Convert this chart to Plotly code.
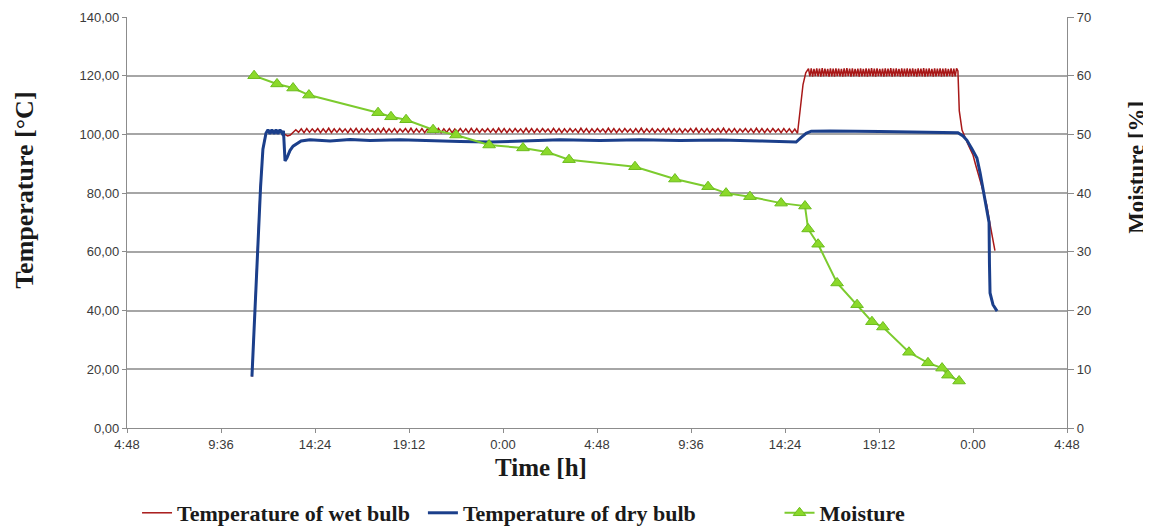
import plotly.graph_objects as go

# ---------------- axes / ticks ----------------
x_tick_hours = [4.8, 9.6, 14.4, 19.2, 24.0, 28.8, 33.6, 38.4, 43.2, 48.0, 52.8]
x_tick_labels = ["4:48", "9:36", "14:24", "19:12", "0:00", "4:48",
                 "9:36", "14:24", "19:12", "0:00", "4:48"]
temp_ticks = [0, 20, 40, 60, 80, 100, 120, 140]
temp_tick_labels = ["0,00", "20,00", "40,00", "60,00", "80,00", "100,00", "120,00", "140,00"]
moist_ticks = [0, 10, 20, 30, 40, 50, 60, 70]
moist_tick_labels = ["0", "10", "20", "30", "40", "50", "60", "70"]

# ---------------- wet bulb temperature (logger segments) ----------------
wet_warmup_start_h = 11.18
wet_warmup_step_h = 0.14
wet_warmup = [17.5, 39.0, 62.0, 81.0, 95.0, 100.3, 101.2, 100.6,
              101.2, 100.6, 101.0, 100.8, 100.0, 99.5, 99.8, 100.8]

wet_stage1_start_h = 13.42
wet_stage1_step_h = 0.14
wet_stage1 = [
    101.6, 100.7, 101.9, 100.6, 102.0, 100.7, 101.9, 100.8,
    102.0, 100.6, 101.9, 100.7, 102.1, 100.6, 101.9, 100.7,
    102.0, 100.8, 101.9, 100.6, 102.0, 100.7, 102.1, 100.6,
    101.9, 100.7, 102.0, 100.8, 101.9, 100.6, 102.0, 100.7,
    102.1, 100.6, 101.9, 100.7, 102.0, 100.6, 101.9, 100.8,
    102.0, 100.7, 102.1, 100.6, 101.9, 100.7, 102.0, 100.6,
    101.9, 100.8, 102.0, 100.7, 102.1, 100.6, 101.9, 100.7,
    102.0, 100.6, 101.9, 100.8, 102.0, 100.7, 101.9, 100.6,
    102.1, 100.7, 102.0, 100.6, 101.9, 100.8, 102.0, 100.7,
    101.9, 100.6, 102.1, 100.7, 102.0, 100.6, 101.9, 100.7,
    102.0, 100.8, 101.9, 100.6, 102.1, 100.7, 102.0, 100.6,
    101.9, 100.7, 102.0, 100.8, 101.9, 100.6, 102.1, 100.7,
    102.0, 100.6, 101.9, 100.7, 102.0, 100.8, 101.9, 100.6,
    102.1, 100.7, 102.0, 100.6, 101.9, 100.7, 102.0, 100.8,
    101.9, 100.6, 102.1, 100.7, 102.0, 100.6, 101.9, 100.7,
    102.0, 100.8, 101.9, 100.6, 102.0, 100.7, 102.1, 100.6,
    101.9, 100.7, 102.0, 100.6, 101.9, 100.8, 102.0, 100.7,
    102.1, 100.6, 101.9, 100.7, 102.0, 100.6, 101.9, 100.8,
    102.0, 100.7, 102.1, 100.6, 101.9, 100.7, 102.0, 100.6,
    101.9, 100.8, 102.0, 100.7, 102.1, 100.6, 101.9, 100.7,
    102.0, 100.6, 101.9, 100.8, 102.0, 100.7, 101.9, 100.6,
    102.1, 100.7, 102.0, 100.6, 101.9, 100.7, 102.0, 100.8,
    101.9, 100.6, 102.0, 100.7, 101.9, 100.6, 101.8, 100.4,
]

wet_rise_start_h = 39.18
wet_rise_step_h = 0.14
wet_rise = [108.0, 117.0, 121.0]

wet_stage2_start_h = 39.60
wet_stage2_step_h = 0.07
wet_stage2 = [
    122.4, 119.8, 122.5, 119.7, 122.3, 119.9, 122.5, 119.8, 122.4, 119.7,
    122.6, 119.8, 122.4, 119.9, 122.3, 119.7, 122.5, 119.8, 122.4, 119.7,
    122.5, 119.9, 122.4, 119.8, 122.3, 119.7, 122.5, 119.8, 122.6, 119.9,
    122.4, 119.7, 122.5, 119.8, 122.3, 119.9, 122.4, 119.7, 122.5, 119.8,
    122.3, 119.8, 122.5, 119.7, 122.4, 119.9, 122.6, 119.8, 122.4, 119.7,
    122.5, 119.9, 122.3, 119.8, 122.4, 119.7, 122.5, 119.8, 122.4, 119.9,
    122.6, 119.7, 122.4, 119.8, 122.5, 119.9, 122.3, 119.7, 122.5, 119.8,
    122.4, 119.8, 122.5, 119.7, 122.4, 119.9, 122.5, 119.8, 122.3, 119.7,
    122.5, 119.9, 122.4, 119.8, 122.6, 119.7, 122.4, 119.8, 122.5, 119.9,
    122.3, 119.7, 122.5, 119.8, 122.4, 119.9, 122.5, 119.7, 122.4, 119.8,
    122.5, 119.8, 122.3, 119.9, 122.5, 119.7, 122.4, 119.8, 122.5, 121.6,
]

wet_cooldown_start_h = 47.30
wet_cooldown_step_h = 0.14
wet_cooldown = [108.0, 101.5, 99.0, 97.0, 95.0, 93.0, 89.5, 86.5,
                83.0, 79.5, 76.0, 70.5, 65.0, 60.4]

# ---------------- dry bulb temperature ----------------
dry_time_h = [11.18, 11.31, 11.46, 11.62, 11.74, 11.90, 12.00, 12.10, 12.20, 12.31,
              12.41, 12.51, 12.61, 12.72, 12.79, 12.87, 12.97, 13.12, 13.28, 13.48,
              13.69, 14.14, 15.17, 16.19, 17.21, 18.74, 20.27, 21.80, 23.34, 24.87,
              26.91, 28.95, 31.00, 33.04, 35.08, 37.12, 38.67, 38.97, 39.23, 39.48,
              39.74, 40.71, 43.25, 45.81, 47.23, 47.49, 47.69, 47.95, 48.20, 48.36,
              48.51, 48.72, 48.82, 48.84, 48.87, 49.02, 49.23]
dry_temp = [17.5, 38.0, 62.0, 82.0, 95.0, 100.5, 101.6, 100.2, 101.6, 100.2,
            101.6, 100.2, 101.6, 100.4, 101.2, 91.0, 92.0, 94.5, 96.0, 96.8,
            97.8, 98.2, 97.8, 98.3, 97.9, 98.2, 97.8, 97.6, 97.4, 97.8,
            98.2, 97.9, 98.2, 97.9, 98.1, 97.8, 97.6, 97.4, 99.0, 100.4,
            101.1, 101.2, 101.0, 100.8, 100.6, 99.5, 98.0, 95.0, 92.0, 87.0,
            81.0, 73.0, 70.0, 56.0, 46.0, 42.0, 39.8]

# ---------------- moisture ----------------
moisture_time_h = [11.29, 12.46, 13.28, 14.09, 17.62, 18.28, 19.05, 20.43, 21.60, 23.29,
                   25.02, 26.25, 27.37, 30.74, 32.78, 34.47, 35.39, 36.61, 38.20, 39.42,
                   39.58, 40.09, 41.06, 42.08, 42.84, 43.40, 44.73, 45.70, 46.42, 46.72,
                   47.29]
moisture_pct = [60.0, 58.6, 57.9, 56.7, 53.7, 53.0, 52.5, 50.8, 49.9, 48.2,
                47.7, 47.0, 45.7, 44.5, 42.4, 41.1, 40.0, 39.4, 38.3, 37.8,
                33.9, 31.3, 24.7, 21.0, 18.1, 17.2, 12.9, 11.1, 10.2, 9.0,
                8.0]

# ---------------- assemble wet-bulb series ----------------
wet_segments = [
    (wet_warmup_start_h, wet_warmup_step_h, wet_warmup),
    (wet_stage1_start_h, wet_stage1_step_h, wet_stage1),
    (wet_rise_start_h, wet_rise_step_h, wet_rise),
    (wet_stage2_start_h, wet_stage2_step_h, wet_stage2),
    (wet_cooldown_start_h, wet_cooldown_step_h, wet_cooldown),
]
wet_time_h, wet_temp = [], []
for start, step, seg in wet_segments:
    for k, v in enumerate(seg):
        wet_time_h.append(round(start + step * k, 3))
        wet_temp.append(v)

SERIF = "Liberation Serif"
SANS = "Liberation Sans"

fig = go.Figure()
fig.add_trace(go.Scatter(
    x=wet_time_h, y=wet_temp, mode="lines", name="Temperature of wet bulb",
    line=dict(color="#A81818", width=1.5), legend="legend", yaxis="y"))
fig.add_trace(go.Scatter(
    x=dry_time_h, y=dry_temp, mode="lines", name="Temperature of dry bulb",
    line=dict(color="#1B3F8B", width=3), legend="legend2", yaxis="y"))
fig.add_trace(go.Scatter(
    x=moisture_time_h, y=moisture_pct, mode="lines+markers", name="Moisture",
    line=dict(color="#7CCB2E", width=2),
    marker=dict(symbol="triangle-up", size=11, color="#8BD92A",
                line=dict(color="#6CBD1E", width=1)),
    legend="legend3", yaxis="y2"))

legend_font = dict(family=SERIF, size=22, color="#1a1a1a", weight="bold")
leg_common = dict(orientation="h", xref="container", yref="container",
                  xanchor="left", y=0.027, yanchor="middle",
                  font=legend_font, bgcolor="rgba(0,0,0,0)")

# page body adds an 8 px offset, so the figure is 8 px smaller on each axis
fig.update_layout(
    width=1143, height=519,
    margin=dict(l=119, r=84, t=9, b=99, autoexpand=False),
    paper_bgcolor="white", plot_bgcolor="white",
    showlegend=True,
    xaxis=dict(
        range=[4.8, 52.8], tickmode="array", tickvals=x_tick_hours, ticktext=x_tick_labels,
        showgrid=False, zeroline=False, showline=True, linecolor="#8c8c8c", linewidth=1.2,
        ticks="outside", ticklen=4, tickcolor="#8c8c8c",
        tickfont=dict(family=SANS, size=13, color="#3a3a3a")),
    yaxis=dict(
        range=[0, 140], tickmode="array", tickvals=temp_ticks, ticktext=temp_tick_labels,
        showgrid=True, gridcolor="#a6a6a6", gridwidth=1.5, zeroline=False,
        showline=True, linecolor="#8c8c8c", linewidth=1.2,
        ticks="outside", ticklen=4, tickcolor="#8c8c8c",
        tickfont=dict(family=SANS, size=13, color="#3a3a3a")),
    yaxis2=dict(
        range=[0, 70], tickmode="array", tickvals=moist_ticks, ticktext=moist_tick_labels,
        overlaying="y", side="right", showgrid=False, zeroline=False,
        showline=True, linecolor="#8c8c8c", linewidth=1.2,
        ticks="outside", ticklen=6, tickcolor="#8c8c8c",
        tickfont=dict(family=SANS, size=13, color="#3a3a3a")),
    legend=dict(x=0.1129, **leg_common),
    legend2=dict(x=0.363, **leg_common),
    legend3=dict(x=0.675, **leg_common),
    annotations=[
        dict(text="<b>Temperature [°C]</b>", textangle=-90, xref="paper", yref="paper",
             x=-0.1085, y=0.577, xanchor="center", yanchor="middle", showarrow=False,
             font=dict(family=SERIF, size=26, color="#1a1a1a")),
        dict(text="<b>Moisture [%]</b>", textangle=-90, xref="paper", yref="paper",
             x=1.0745, y=0.633, xanchor="center", yanchor="middle", showarrow=False,
             font=dict(family=SERIF, size=23, color="#1a1a1a")),
        dict(text="<b>Time [h]</b>", xref="paper", yref="paper",
             x=0.44, y=-0.095, xanchor="center", yanchor="middle", showarrow=False,
             font=dict(family=SERIF, size=25, color="#1a1a1a")),
    ],
)

fig.write_html("out.html")
